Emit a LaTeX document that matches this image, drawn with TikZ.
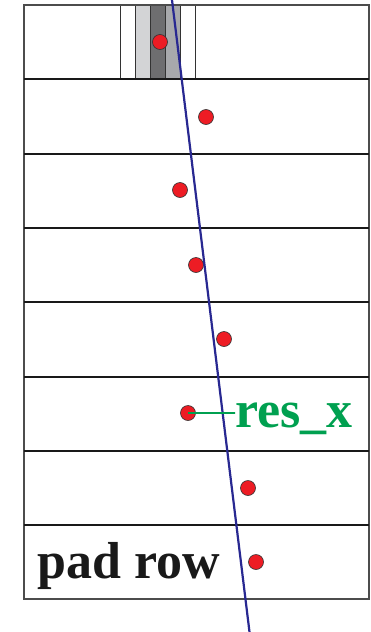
\documentclass[tikz,border=0pt]{standalone}
\usepackage{fontspec}
\setmainfont{Liberation Serif}
\usepackage{xcolor}
\usepackage{tikz}
\usetikzlibrary{positioning}

\definecolor{trackblue}{RGB}{40,40,145}
\definecolor{resgreen}{RGB}{0,160,80}
\definecolor{hitred}{RGB}{237,28,36}
\definecolor{padlight}{RGB}{211,212,214}
\definecolor{padmid}{RGB}{168,169,172}
\definecolor{paddark}{RGB}{110,110,112}

\tikzset{
	hit/.style={circle, fill=hitred, draw=black!80, line width=0.6pt, minimum size=15pt, inner sep=0pt},
	rowline/.style={black!90, line width=2pt},
	frame/.style={black!70, line width=1.4pt},
	padcell/.style={black!80, line width=1pt},
	bigtext/.style={font=\fontsize{52}{52}\selectfont\bfseries, inner sep=0pt}
}

\begin{document}
\begin{tikzpicture}[x=1pt, y=-1pt]
		\useasboundingbox (0,0) rectangle (371,632);
		% Pads of the top row:
		\filldraw[padcell, fill=padlight] (135,5) rectangle (150,79);
		\filldraw[padcell, fill=paddark] (150,5) rectangle (165,79);
		\filldraw[padcell, fill=padmid] (165,5) rectangle (180,79);
		\draw[padcell] (120,5) -- (120,79);
		\draw[padcell] (195,5) -- (195,79);
		% Pad rows:
		\draw[frame] (24,5) rectangle (369,599);
		\foreach \y in {79.3,153.6,227.9,302.2,376.5,450.8,525.1}
			\draw[rowline] (24,\y) -- (369,\y);
		% Hits:
		\node[hit] (h1) at (160,42){};
		\node[hit] (h2) at (206,117){};
		\node[hit] (h3) at (180,190){};
		\node[hit] (h4) at (196,265){};
		\node[hit] (h5) at (224,339){};
		\node[hit] (h6) at (188,413){};
		\node[hit] (h7) at (248,488){};
		\node[hit] (h8) at (256,562){};
		% Track:
		\coordinate (tracktop) at (172,0);
		\coordinate (trackbot) at (249.5,632);
		\draw[trackblue, line width=2.2pt] (tracktop) -- (trackbot);
		% Labels:
		\node[bigtext, text=resgreen, anchor=base west] (resx) at (235,427){res\_x};
		\draw[resgreen, line width=2.2pt] (h6.center) -- (resx.west |- h6.center) -- ++(-12,0);
		\node[bigtext, text=black!90, anchor=base west] (padrow) at (37,578){pad row};
	\end{tikzpicture}
\end{document}
